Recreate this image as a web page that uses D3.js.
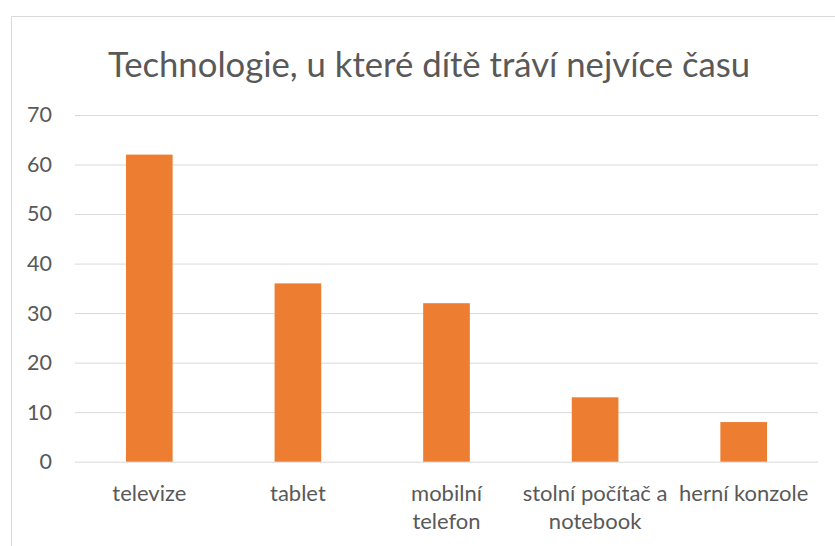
<!DOCTYPE html>
<html><head><meta charset="utf-8">
<script src="https://cdn.jsdelivr.net/npm/d3@7"></script>
<style>body{margin:0;background:#fff}svg{display:block}</style>
</head><body>
<script>
const title = "Technologie, u které dítě tráví nejvíce času";
const categories = ["televize", "tablet", "mobilní telefon", "stolní počítač a notebook", "herní konzole"];
const categoryLines = [["televize"], ["tablet"], ["mobilní", "telefon"], ["stolní počítač a", "notebook"], ["herní konzole"]];
const values = [62, 36, 32, 13, 8];
const yTicks = [0, 10, 20, 30, 40, 50, 60, 70];

const W = 835, H = 546;
const font = "Lato, sans-serif";
const svg = d3.select("body").append("svg").attr("width", W).attr("height", H);

// chart area border
svg.append("path").attr("d", `M11.5,${H} V16.5 H${W}`).attr("fill", "none").attr("stroke", "#d9d9d9").attr("stroke-width", 1);

const x = d3.scaleBand().domain(categories).range([75, 818]).paddingInner(0.686).paddingOuter(0.343);
const y = d3.scaleLinear().domain([0, 70]).range([461.7, 115]);

const yAxis = svg.append("g").attr("transform", "translate(75,0)")
  .call(d3.axisLeft(y).tickValues(yTicks).tickSize(-(818 - 75)).tickPadding(23));
yAxis.select(".domain").remove();
yAxis.selectAll("line").attr("stroke", "#d9d9d9").attr("stroke-width", 1);
yAxis.selectAll("text").attr("fill", "#595959").style("font-family", font).style("font-size", "21.5px");

svg.append("g").selectAll("rect").data(values).join("rect")
  .attr("x", (d, i) => x(categories[i]))
  .attr("width", x.bandwidth())
  .attr("y", d => y(d))
  .attr("height", d => y(0) - y(d))
  .attr("fill", "#ED7D31");

const xl = svg.append("g");
categories.forEach((c, i) => {
  const t = xl.append("text").attr("text-anchor", "middle").attr("fill", "#595959")
    .style("font-family", font).style("font-size", "22px")
    .attr("x", x(c) + x.bandwidth() / 2).attr("y", 501);
  categoryLines[i].forEach((ln, j) => t.append("tspan").attr("x", x(c) + x.bandwidth() / 2).attr("dy", j ? 28 : 0).text(ln));
});

svg.append("text").attr("x", 429).attr("y", 77).attr("text-anchor", "middle")
  .attr("fill", "#595959").style("font-family", font).style("font-size", "34.7px").text(title);
</script>
</body></html>
